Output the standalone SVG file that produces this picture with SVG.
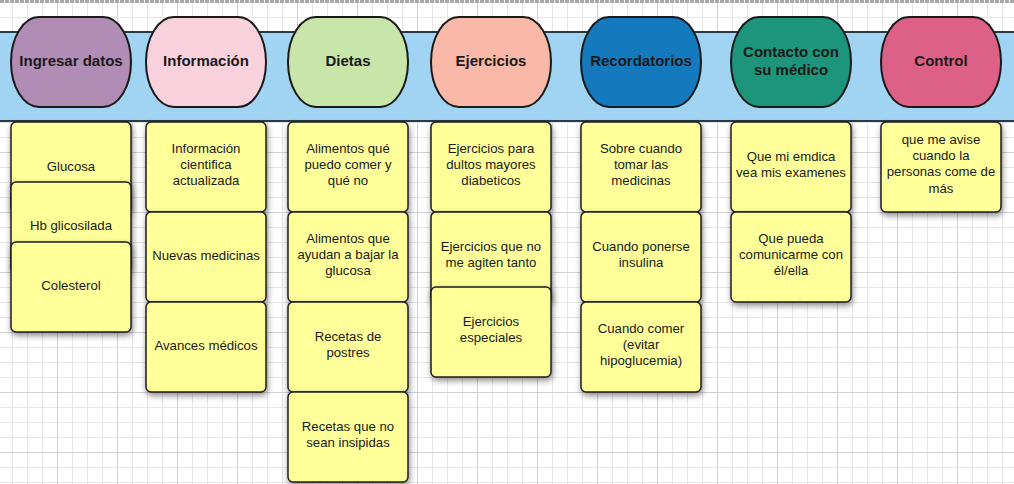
<svg xmlns="http://www.w3.org/2000/svg" width="1014" height="484" viewBox="0 0 1014 484">
<defs>
<pattern id="grid" patternUnits="userSpaceOnUse" x="57" y="32" width="60" height="60">
<rect width="60" height="60" fill="#ffffff"/>
<path d="M15.5 0V60M30.5 0V60M45.5 0V60M0 15.5H60M0 30.5H60M0 45.5H60" stroke="#e6e6e6" stroke-width="1"/>
<path d="M0.5 0V60M0 0.5H60" stroke="#d2d2d2" stroke-width="1"/>
</pattern>
<filter id="sh" x="-20%" y="-20%" width="150%" height="150%">
<feDropShadow dx="1" dy="3" stdDeviation="3" flood-color="#000" flood-opacity="0.45"/>
</filter>
</defs>
<style>
.card{fill:#ffff9a;stroke:#1e1e1e;stroke-width:1.5;filter:url(#sh)}
.hdr{stroke:#1a1a1a;stroke-width:2}
.ht{font-family:"Liberation Sans",Arial,sans-serif;font-size:15px;font-weight:bold;fill:#1a1a1a;text-anchor:middle}
.ct{font-family:"Liberation Sans",Arial,sans-serif;font-size:13.2px;fill:#1a1a1a;text-anchor:middle}
</style>
<rect width="1014" height="484" fill="url(#grid)"/>
<line x1="0" y1="1.5" x2="1014" y2="1.5" stroke="#a8a8a8" stroke-width="3" stroke-dasharray="4 1"/>
<rect id="band" x="-2" y="32" width="1020" height="89" fill="#a0d4f2" stroke="#2a3a44" stroke-width="2"/>

<g id="h-ingresar"><rect class="hdr" x="11" y="17" width="120" height="90" rx="28" ry="45" fill="#b18db5"/><text class="ht" x="71" y="66">Ingresar datos</text></g>
<g id="h-informacion"><rect class="hdr" x="146" y="17" width="120" height="90" rx="28" ry="45" fill="#f9d1dd"/><text class="ht" x="206" y="66">Información</text></g>
<g id="h-dietas"><rect class="hdr" x="288" y="17" width="120" height="90" rx="28" ry="45" fill="#c8e6a9"/><text class="ht" x="348" y="66">Dietas</text></g>
<g id="h-ejercicios"><rect class="hdr" x="431" y="17" width="120" height="90" rx="28" ry="45" fill="#fab9a8"/><text class="ht" x="491" y="66">Ejercicios</text></g>
<g id="h-recordatorios"><rect class="hdr" x="581" y="17" width="120" height="90" rx="28" ry="45" fill="#1479bd"/><text class="ht" x="641" y="66">Recordatorios</text></g>
<g id="h-contacto"><rect class="hdr" x="731" y="17" width="120" height="90" rx="28" ry="45" fill="#1c957b"/><text class="ht" x="791" y="57">Contacto con</text><text class="ht" x="791" y="75">su médico</text></g>
<g id="h-control"><rect class="hdr" x="881" y="17" width="120" height="90" rx="28" ry="45" fill="#dd6087"/><text class="ht" x="941" y="66">Control</text></g>

<g id="c1-glucosa"><rect class="card" x="11" y="122" width="120" height="90" rx="5"/><text class="ct" x="71" y="171.2">Glucosa</text></g>
<g id="c1-hb"><rect class="card" x="11" y="182" width="120" height="90" rx="5"/><text class="ct" x="71" y="229.7">Hb glicosilada</text></g>
<g id="c1-colesterol"><rect class="card" x="11" y="242" width="120" height="90" rx="5"/><text class="ct" x="71" y="289.7">Colesterol</text></g>

<g id="c2-info"><rect class="card" x="146" y="122" width="120" height="90" rx="5"/><text class="ct" x="206" y="152.7">Información</text><text class="ct" x="206" y="168.7">cientifica</text><text class="ct" x="206" y="184.7">actualizada</text></g>
<g id="c2-nuevas"><rect class="card" x="146" y="212" width="120" height="90" rx="5"/><text class="ct" x="206" y="259.7">Nuevas medicinas</text></g>
<g id="c2-avances"><rect class="card" x="146" y="302" width="120" height="90" rx="5"/><text class="ct" x="206" y="349.7">Avances médicos</text></g>

<g id="c3-alimentos"><rect class="card" x="288" y="122" width="120" height="90" rx="5"/><text class="ct" x="348" y="152.7">Alimentos qué</text><text class="ct" x="348" y="168.7">puedo comer y</text><text class="ct" x="348" y="184.7">qué no</text></g>
<g id="c3-bajar"><rect class="card" x="288" y="212" width="120" height="90" rx="5"/><text class="ct" x="348" y="242.7">Alimentos que</text><text class="ct" x="348" y="258.7">ayudan a bajar la</text><text class="ct" x="348" y="274.7">glucosa</text></g>
<g id="c3-postres"><rect class="card" x="288" y="302" width="120" height="90" rx="5"/><text class="ct" x="348" y="340.7">Recetas de</text><text class="ct" x="348" y="356.7">postres</text></g>
<g id="c3-insipidas"><rect class="card" x="288" y="392" width="120" height="90" rx="5"/><text class="ct" x="348" y="430.7">Recetas que no</text><text class="ct" x="348" y="446.7">sean insipidas</text></g>

<g id="c4-mayores"><rect class="card" x="431" y="122" width="120" height="90" rx="5"/><text class="ct" x="491" y="152.7">Ejercicios para</text><text class="ct" x="491" y="168.7">dultos mayores</text><text class="ct" x="491" y="184.7">diabeticos</text></g>
<g id="c4-agiten"><rect class="card" x="431" y="212" width="120" height="90" rx="5"/><text class="ct" x="491" y="250.7">Ejercicios que no</text><text class="ct" x="491" y="266.7">me agiten tanto</text></g>
<g id="c4-especiales"><rect class="card" x="431" y="287" width="120" height="90" rx="5"/><text class="ct" x="491" y="325.7">Ejercicios</text><text class="ct" x="491" y="341.7">especiales</text></g>

<g id="c5-tomar"><rect class="card" x="581" y="122" width="120" height="90" rx="5"/><text class="ct" x="641" y="152.7">Sobre cuando</text><text class="ct" x="641" y="168.7">tomar las</text><text class="ct" x="641" y="184.7">medicinas</text></g>
<g id="c5-insulina"><rect class="card" x="581" y="212" width="120" height="90" rx="5"/><text class="ct" x="641" y="250.7">Cuando ponerse</text><text class="ct" x="641" y="266.7">insulina</text></g>
<g id="c5-comer"><rect class="card" x="581" y="302" width="120" height="90" rx="5"/><text class="ct" x="641" y="332.7">Cuando comer</text><text class="ct" x="641" y="348.7">(evitar</text><text class="ct" x="641" y="364.7">hipoglucemia)</text></g>

<g id="c6-examenes"><rect class="card" x="731" y="122" width="120" height="90" rx="5"/><text class="ct" x="791" y="160.7">Que mi emdica</text><text class="ct" x="791" y="176.7">vea mis examenes</text></g>
<g id="c6-comunicar"><rect class="card" x="731" y="212" width="120" height="90" rx="5"/><text class="ct" x="791" y="242.7">Que pueda</text><text class="ct" x="791" y="258.7">comunicarme con</text><text class="ct" x="791" y="274.7">él/ella</text></g>

<g id="c7-avise"><rect class="card" x="881" y="122" width="120" height="90" rx="5"/><text class="ct" x="941" y="143.7">que me avise</text><text class="ct" x="941" y="159.7">cuando la</text><text class="ct" x="941" y="176.2">personas come de</text><text class="ct" x="941" y="192.7">más</text></g>
</svg>
